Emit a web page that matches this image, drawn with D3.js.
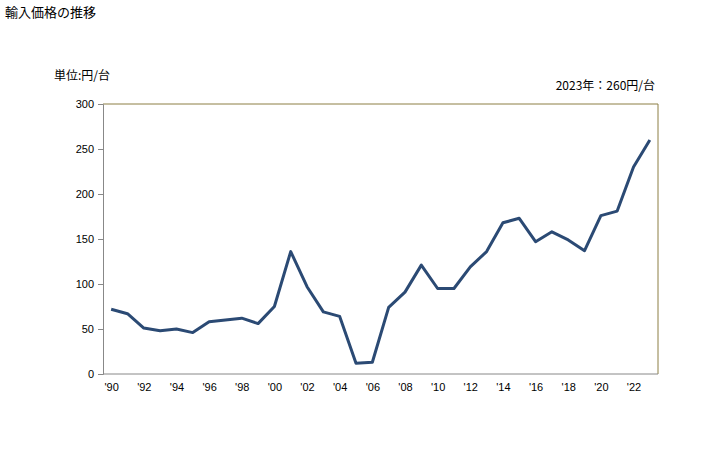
<!DOCTYPE html>
<html><head><meta charset="utf-8">
<script src="https://cdn.jsdelivr.net/npm/d3@7"></script>
<style>
body{margin:0;background:#fff;}
text{font-family:"Liberation Sans","Noto Sans CJK JP",sans-serif;fill:#000;}
.jp{font-family:"Noto Sans CJK JP",sans-serif;}
</style></head>
<body><svg id="c" width="728" height="450"></svg>
<script>
const years = d3.range(1990, 2024);
const values = [72,67,51,48,50,46,58,60,62,56,75,136,97,69,64,12,13,74,91,121,95,95,119,136,168,173,147,158,149,137,176,181,230,260];
const yTicks = [0,50,100,150,200,250,300];
const xTickYears = d3.range(1990, 2024, 2);
const title = "輸入価格の推移";
const unitLabel = "単位:円/台";
const noteLabel = "2023年：260円/台";

const svg = d3.select("#c");
const L = 103, R = 658, T = 104, B = 374;

const x = d3.scalePoint().domain(years).range([L, R]).padding(0.5);
const y = d3.scaleLinear().domain([0, 300]).range([B, T]);

svg.append("text").attr("class","jp").attr("x",5).attr("y",17).attr("font-size",13).text(title);
svg.append("text").attr("class","jp").attr("x",54).attr("y",80).attr("font-size",12).text(unitLabel);
svg.append("text").attr("class","jp").attr("x",655).attr("y",90).attr("font-size",12).attr("text-anchor","end").text(noteLabel);

// frame (top/right olive)
svg.append("path").attr("d",`M${L},${T}H${R}V${B}`).attr("fill","none").attr("stroke","#8c7f45").attr("stroke-width",1);

// y axis
const ya = svg.append("g").attr("transform",`translate(${L},0)`)
  .call(d3.axisLeft(y).tickValues(yTicks).tickSize(5).tickPadding(4));
ya.select(".domain").attr("stroke","#888");
ya.selectAll(".tick line").attr("stroke","#888");
ya.selectAll("text").attr("font-size",11).attr("font-family","Liberation Sans, sans-serif");

// x axis
const xa = svg.append("g").attr("transform",`translate(0,${B})`)
  .call(d3.axisBottom(x).tickValues(xTickYears).tickSize(0).tickPadding(9)
    .tickFormat(d => "'" + String(d).slice(2)));
xa.select(".domain").attr("stroke","#888").attr("d",`M${L},0H${R}`);
xa.selectAll("text").attr("font-size",11).attr("font-family","Liberation Sans, sans-serif");

const line = d3.line().x((d,i)=>x(years[i])).y(d=>y(d));
svg.append("path").datum(values).attr("d",line).attr("fill","none")
  .attr("stroke","#2b4a74").attr("stroke-width",3).attr("stroke-linejoin","round");
</script></body></html>
